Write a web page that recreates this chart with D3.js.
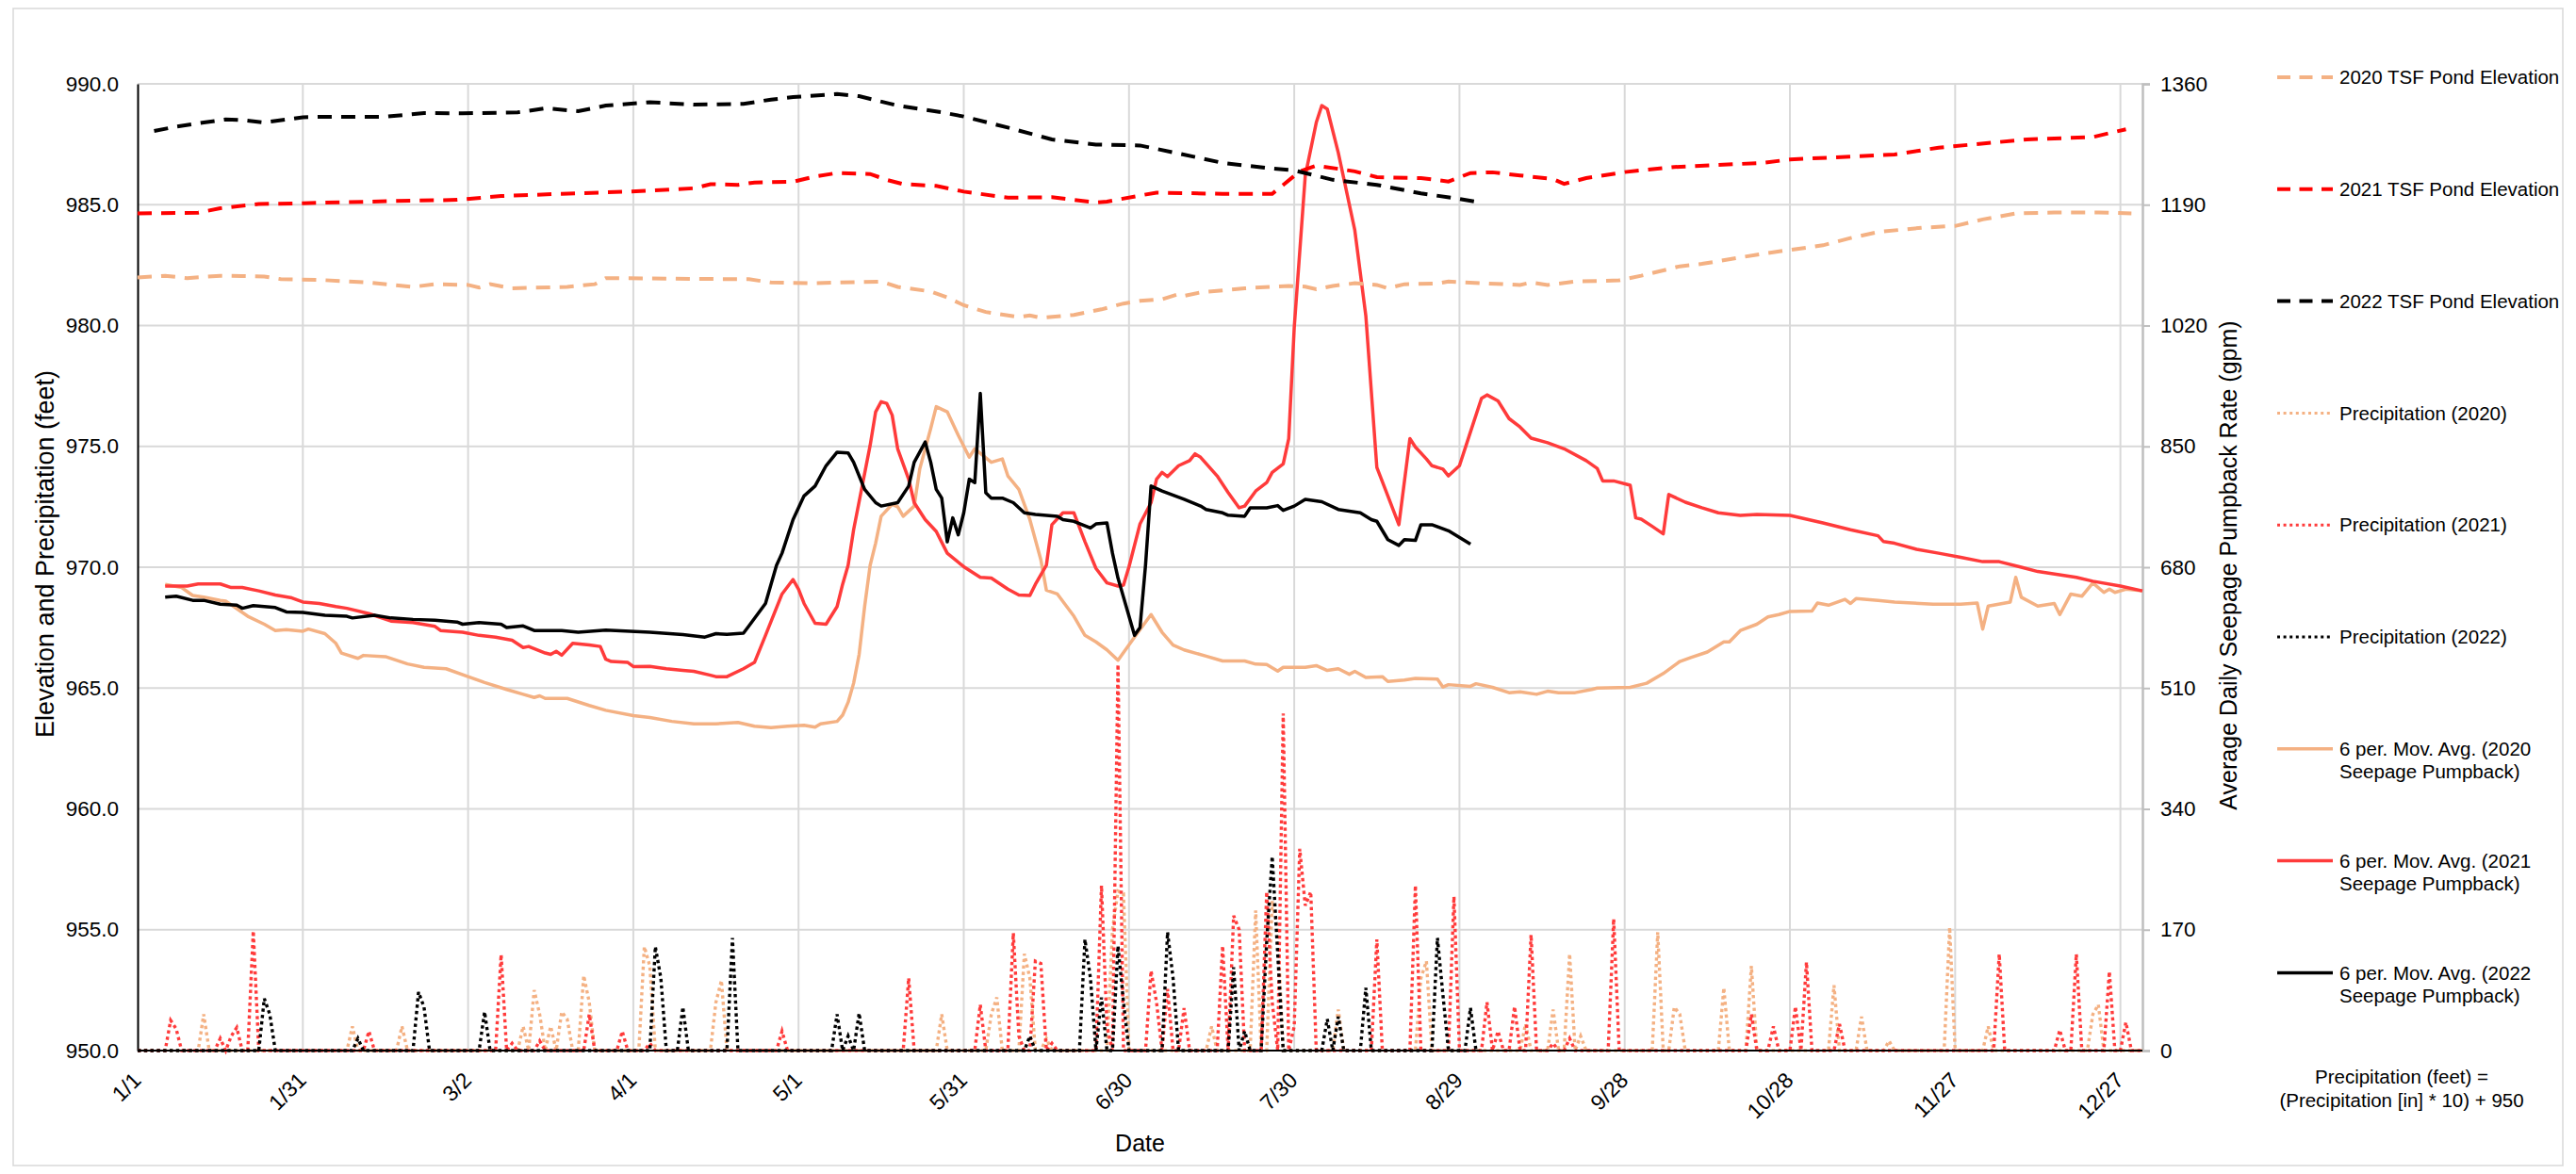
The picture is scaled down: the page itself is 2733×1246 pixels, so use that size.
<!DOCTYPE html>
<html><head><meta charset="utf-8">
<script src="https://cdn.jsdelivr.net/npm/d3@7/dist/d3.min.js"></script>
<style>
body{margin:0;background:#fff}
text{font-family:"Liberation Sans",Arial,sans-serif;fill:#000}
</style>
</head><body>
<svg id="c" width="2733" height="1246"></svg>
<script>
// ---------- DATA (day of year index 0 = 1/1) ----------
const xTickDays = [0,30,60,90,120,150,180,210,240,270,300,330,360];
const xTickLabels = ["1/1","1/31","3/2","4/1","5/1","5/31","6/30","7/30","8/29","9/28","10/28","11/27","12/27"];
const leftTicks = [950,955,960,965,970,975,980,985,990];
const rightTicks = [0,170,340,510,680,850,1020,1190,1360];

// TSF Pond Elevation (feet)
const tsf2020Days = [0,5,9,15,23,26,33,42,50,54,60,62,64,68,78,83,85,93,101,111,115,122,135,138,144,147,150,154,160,162,164,170,175,179,182,186,189,190,193,201,209,212,214,217,221,225,227,230,236,238,248,251,253,256,261,269,273,280,284,295,306,311,316,324,330,335,341,348,356,362];
const tsf2020Vals = [981.99,982.06,981.96,982.06,982.03,981.92,981.89,981.78,981.60,981.71,981.68,981.57,981.71,981.54,981.60,981.71,981.96,981.95,981.93,981.92,981.78,981.75,981.82,981.60,981.41,981.16,980.84,980.56,980.35,980.42,980.32,980.44,980.67,980.91,981.02,981.09,981.30,981.23,981.37,981.54,981.64,981.61,981.50,981.64,981.75,981.68,981.54,981.71,981.74,981.82,981.71,981.68,981.78,981.68,981.82,981.87,982.06,982.45,982.55,982.97,983.32,983.62,983.87,984.05,984.12,984.39,984.64,984.68,984.68,984.64];

const tsf2021Days = [0,11,15,22,30,46,58,66,77,89,101,104,109,112,119,123,127,133,136,139,145,150,158,166,174,176,182,185,197,206,208,211,214,221,225,233,238,242,246,251,257,259,263,270,279,295,300,319,327,343,355,361];
const tsf2021Vals = [984.64,984.67,984.85,985.03,985.06,985.15,985.20,985.36,985.45,985.54,985.68,985.85,985.82,985.92,985.95,986.17,986.31,986.27,986.03,985.85,985.78,985.54,985.29,985.31,985.09,985.13,985.38,985.50,985.45,985.45,985.82,986.38,986.62,986.38,986.14,986.10,985.96,986.31,986.34,986.21,986.06,985.86,986.10,986.35,986.56,986.73,986.87,987.08,987.36,987.70,987.80,988.12];

const tsf2022Days = [3,7,12,16,19,23,30,34,45,52,59,69,74,80,85,93,101,110,115,119,127,131,138,146,150,158,166,174,182,189,197,205,210,217,225,233,240,244];
const tsf2022Vals = [988.05,988.23,988.40,988.53,988.50,988.40,988.62,988.64,988.64,988.79,988.78,988.82,988.99,988.87,989.10,989.24,989.14,989.17,989.35,989.45,989.58,989.49,989.10,988.82,988.65,988.19,987.70,987.49,987.45,987.12,986.73,986.52,986.42,986.03,985.82,985.47,985.24,985.08];

// Precipitation (inches) on rain days; all other days 0
const precip2020Days = [12,39,48,70,72,73,75,77,78,81,82,92,93,105,106,146,155,156,161,162,165,177,178,179,195,203,206,207,218,233,234,252,257,260,262,276,279,280,288,293,308,313,318,329,336,355,356];
const precip2020In   = [0.15,0.10,0.10,0.10,0.25,0.15,0.10,0.16,0.13,0.31,0.20,0.43,0.35,0.20,0.29,0.15,0.15,0.22,0.40,0.30,0.05,0.50,0.66,0.65,0.10,0.58,0.62,0.50,0.17,0.30,0.37,0.11,0.17,0.40,0.06,0.49,0.18,0.15,0.26,0.35,0.27,0.14,0.04,0.51,0.10,0.15,0.19];
const precip2020End = 364;

const precip2021Days = [6,7,15,17,18,21,42,66,68,73,82,88,93,117,140,153,159,160,163,164,166,175,176,178,184,185,187,190,197,199,200,205,206,208,210,211,212,213,225,232,239,245,247,250,253,257,260,268,293,297,301,303,309,338,349,352,358,361];
const precip2021In   = [0.125,0.09,0.05,0.06,0.095,0.495,0.08,0.397,0.03,0.04,0.15,0.08,0.03,0.08,0.30,0.19,0.486,0.06,0.37,0.36,0.03,0.683,0.10,1.598,0.33,0.20,0.255,0.176,0.433,0.558,0.50,0.657,0.20,1.395,0.10,0.835,0.60,0.657,0.46,0.683,0.637,0.20,0.08,0.182,0.479,0.03,0.05,0.545,0.15,0.10,0.182,0.366,0.11,0.399,0.085,0.399,0.327,0.117];
const precip2021End = 364;

const precip2022Days = [23,24,40,51,52,63,94,95,99,108,127,129,131,162,172,173,175,178,179,187,188,199,201,205,206,207,216,218,223,236,237,242];
const precip2022In   = [0.215,0.15,0.05,0.242,0.18,0.16,0.43,0.30,0.18,0.466,0.15,0.06,0.155,0.06,0.46,0.30,0.22,0.433,0.20,0.49,0.30,0.345,0.08,0.45,0.803,0.40,0.13,0.14,0.26,0.466,0.23,0.177];
const precip2022End = 243;

// 6 per. moving average seepage pumpback (gpm)
const seep2020Days = [5,8,10,12,15,16,20,23,25,27,30,31,34,36,37,40,41,45,49,52,56,60,63,67,70,72,73,74,78,82,85,90,93,97,101,105,109,112,115,118,121,123,124,127,128,129,130,131,132,133,134,135,137,138,139,141,142,144,145,147,149,151,152,155,157,158,160,162,164,165,167,170,172,174,176,178,181,184,186,188,190,194,197,201,203,205,207,208,212,214,216,218,220,221,223,226,227,230,232,236,237,238,242,243,246,249,251,254,256,258,261,264,265,271,274,277,280,282,285,288,289,291,294,296,298,300,304,305,307,310,311,312,316,319,326,331,334,335,336,340,341,342,345,348,349,351,353,355,357,358,359,361,364];
const seep2020Gpm = [655.9,651.4,640.2,637.8,633.4,632.4,611.0,599.8,590.9,592.3,589.9,593.0,586.5,572.9,559.3,551.8,555.9,554.2,544.0,539.2,537.2,526.0,517.8,508.0,501.2,496.7,499.1,495.4,495.4,485.5,478.7,471.2,468.5,463.1,459.7,459.7,461.7,456.3,454.2,456.3,457.6,454.9,459.7,463.1,471.9,489.9,516.8,557.3,624.6,682.7,714.0,751.7,768.4,765.0,751.7,766.0,818.0,875.2,905.8,898.6,865.6,834.7,846.6,827.6,832.3,808.5,789.5,747.0,690.2,647.7,642.3,611.0,584.1,574.9,563.7,549.1,581.7,613.4,588.5,570.5,563.7,554.9,548.1,548.1,543.7,543.0,533.8,539.2,539.2,541.6,534.8,537.2,529.4,533.5,525.0,526.0,519.2,521.2,523.6,522.6,511.4,514.8,512.4,516.1,511.0,503.5,504.6,501.2,505.6,503.5,503.5,508.0,510.0,511.0,516.8,530.4,547.4,552.8,560.7,574.9,574.9,590.9,599.8,610.0,613.4,617.8,618.5,629.7,626.6,634.8,629.0,635.8,633.4,631.0,628.0,628.0,629.7,592.9,625.3,631.0,665.7,637.8,625.3,629.0,613.4,642.3,639.2,658.0,644.6,649.1,644.6,649.1,646.7];

const seep2021Days = [5,9,11,15,17,19,22,25,28,30,33,36,38,42,46,50,54,55,59,62,65,68,70,71,74,75,76,77,79,82,84,85,86,89,90,93,96,99,101,104,105,107,110,112,114,117,119,120,121,123,125,127,128,129,130,133,134,135,136,137,138,140,141,143,145,147,150,153,155,158,160,162,163,165,166,168,170,172,174,176,178,179,180,182,184,185,186,187,189,191,192,193,196,198,200,201,203,205,206,208,209,210,212,214,215,216,218,221,223,225,227,229,231,232,234,235,237,238,240,242,244,245,247,249,251,253,256,259,263,265,266,268,271,272,273,275,277,278,281,284,287,291,294,300,303,306,311,316,317,319,323,327,331,335,338,342,345,352,355,360,364];
const seep2021Gpm = [653.5,653.5,656.5,656.5,651.4,651.4,646.7,640.9,636.8,631.0,629.0,624.6,622.2,614.7,604.2,602.1,596.7,590.9,588.5,584.1,581.7,577.3,567.1,568.5,559.3,557.3,561.7,556.2,572.9,570.5,568.5,550.5,547.4,546.0,540.3,540.6,537.2,534.8,533.5,528.0,526.0,526.0,537.2,546.0,584.1,642.3,662.7,649.1,629.0,601.1,599.8,624.6,655.9,682.7,732.7,851.4,898.6,912.9,910.5,893.9,846.6,803.8,770.8,747.0,730.3,699.7,680.7,665.7,664.7,649.1,640.9,640.2,655.9,682.7,739.8,756.5,756.5,716.0,678.3,657.9,653.5,654.8,680.7,740.9,770.8,803.8,813.3,807.5,822.8,829.9,839.5,834.7,808.5,785.1,763.6,766.0,787.1,799.0,813.3,825.2,860.9,1017.3,1230.5,1305.6,1329.4,1324.6,1263.1,1154.0,1033.6,820.4,780.3,739.8,860.9,849.0,832.3,822.8,818.0,808.5,822.8,870.4,917.7,922.4,913.9,889.1,877.2,861.6,855.1,846.6,829.9,819.1,801.4,801.4,795.3,749.4,747.7,737.5,726.9,782.3,771.5,763.6,756.5,752.8,754.1,752.8,747.7,742.2,732.7,724.2,716.0,713.7,705.2,699.7,693.9,687.8,687.8,680.0,673.9,665.7,660.3,653.5,646.7];

const seep2022Days = [5,7,10,12,15,18,19,21,25,27,30,34,38,39,43,46,50,54,58,59,62,66,67,70,72,77,80,85,93,99,103,105,107,110,111,114,116,117,119,121,123,125,127,129,130,132,134,135,138,140,141,143,144,145,146,147,148,149,150,151,152,153,154,155,157,159,161,163,167,168,170,173,174,176,177,178,179,181,182,183,184,186,190,193,194,197,198,201,202,205,207,208,210,212,215,218,222,224,225,227,229,230,232,233,235,238,242];
const seep2022Gpm = [637.8,639.2,633.4,633.4,628.0,626.6,622.2,625.9,623.2,617.1,616.4,612.3,611.0,608.6,612.3,608.6,606.6,605.5,602.8,599.8,602.1,599.8,595.3,597.4,590.9,590.9,588.5,591.6,588.5,585.1,581.7,586.5,585.5,587.2,597.4,629.0,682.7,699.7,747.0,780.3,794.2,822.8,841.8,840.8,827.6,789.5,770.8,766.0,770.8,794.2,827.6,856.1,827.6,789.5,777.2,715.7,749.4,725.6,756.5,803.8,799.0,924.5,784.7,777.2,777.2,770.8,756.5,754.1,751.7,747.0,744.6,735.1,740.9,742.2,699.7,664.7,637.8,584.1,595.3,682.7,794.2,787.1,775.5,766.0,761.3,756.5,753.1,751.7,763.6,763.6,766.7,759.9,766.0,775.5,772.1,761.3,756.5,747.0,744.6,718.8,710.6,718.8,717.7,739.8,739.8,731.3,712.6];

// ---------- COLOURS ----------
const C2020 = "#F4B183", C2021 = "#FF0000", C2021L = "#FF3B3B", C2022 = "#000000";

// ---------- SCALES ----------
const svg = d3.select("#c");
const X0 = 146, X1 = 2273, Y0 = 1115, Y1 = 89;
const x = d3.scaleLinear().domain([0,364]).range([X0,X1]);
const yL = d3.scaleLinear().domain([950,990]).range([Y0,Y1]);
const yR = d3.scaleLinear().domain([0,1360]).range([Y0,Y1]);

svg.append("rect").attr("x",0).attr("y",0).attr("width",2733).attr("height",1246).attr("fill","#fff");
svg.append("rect").attr("x",14).attr("y",9).attr("width",2705).attr("height",1228)
  .attr("fill","none").attr("stroke","#d9d9d9").attr("stroke-width",1.5);

// gridlines
const grid = svg.append("g");
grid.selectAll("line.h").data(leftTicks.slice(1)).join("line")
  .attr("x1",X0).attr("x2",X1).attr("y1",d=>yL(d)).attr("y2",d=>yL(d))
  .attr("stroke","#d9d9d9").attr("stroke-width",2);
grid.selectAll("line.v").data(xTickDays.slice(1)).join("line")
  .attr("x1",d=>x(d)).attr("x2",d=>x(d)).attr("y1",Y1).attr("y2",Y0)
  .attr("stroke","#d9d9d9").attr("stroke-width",2);

// right axis
const rAxis = d3.axisRight(yR).tickValues(rightTicks).tickSize(8).tickFormat(d3.format("d"));
const rg = svg.append("g").attr("transform",`translate(${X1},0)`).call(rAxis);
rg.select(".domain").attr("stroke","#bfbfbf").attr("stroke-width",2.5);
rg.selectAll(".tick line").attr("stroke","#bfbfbf").attr("stroke-width",2);
rg.selectAll(".tick text").attr("x",19).attr("font-size",22.5).attr("font-family","Liberation Sans, Arial, sans-serif").attr("fill","#000");

// left axis
const lAxis = d3.axisLeft(yL).tickValues(leftTicks).tickSize(0).tickFormat(d3.format(".1f"));
const lg = svg.append("g").attr("transform",`translate(${X0},0)`).call(lAxis);
lg.select(".domain").attr("stroke","#000").attr("stroke-width",2);
lg.selectAll(".tick text").attr("x",-20).attr("font-size",22.5).attr("font-family","Liberation Sans, Arial, sans-serif").attr("fill","#000");

// x labels
const xg = svg.append("g");
xg.selectAll("text").data(xTickDays).join("text")
  .attr("transform",d=>`translate(${x(d)+5},${Y0+33}) rotate(-45)`)
  .attr("text-anchor","end").attr("font-size",23)
  .text((d,i)=>xTickLabels[i]);

// ---------- SERIES ----------
const lineL = d3.line().x(d=>x(d[0])).y(d=>yL(d[1]));
const lineR = d3.line().x(d=>x(d[0])).y(d=>yR(d[1]));
const zip = (a,b)=>a.map((d,i)=>[d,b[i]]);
function dailyPrecip(days, inches, end){
  const m = new Map(days.map((d,i)=>[d,inches[i]]));
  const out = [];
  for(let d=0; d<=end; d++) out.push([d, (m.get(d)||0)*10 + 950]);
  return out;
}
const plot = svg.append("g");
const dot = "3.4 3.4", dash = "15 10";
[[precip2020Days,precip2020In,precip2020End,C2020],
 [precip2021Days,precip2021In,precip2021End,C2021L],
 [precip2022Days,precip2022In,precip2022End,C2022]].forEach(s=>{
  plot.append("path").attr("d",lineL(dailyPrecip(s[0],s[1],s[2])))
    .attr("fill","none").attr("stroke",s[3]).attr("stroke-width",3.4).attr("stroke-dasharray",dot);
});
// bottom axis line
svg.append("line").attr("x1",X0).attr("x2",X1).attr("y1",Y0).attr("y2",Y0).attr("stroke","#000").attr("stroke-width",2);

[[seep2020Days,seep2020Gpm,C2020],[seep2021Days,seep2021Gpm,C2021L],[seep2022Days,seep2022Gpm,C2022]].forEach(s=>{
  plot.append("path").attr("d",lineR(zip(s[0],s[1])))
    .attr("fill","none").attr("stroke",s[2]).attr("stroke-width",3.5).attr("stroke-linejoin","round");
});
[[tsf2020Days,tsf2020Vals,C2020],[tsf2021Days,tsf2021Vals,C2021],[tsf2022Days,tsf2022Vals,C2022]].forEach(s=>{
  plot.append("path").attr("d",lineL(zip(s[0],s[1])))
    .attr("fill","none").attr("stroke",s[2]).attr("stroke-width",4).attr("stroke-dasharray",dash);
});

// ---------- AXIS TITLES ----------
svg.append("text").attr("transform","translate(57,588) rotate(-90)").attr("text-anchor","middle")
  .attr("font-size",27).text("Elevation and Precipitation (feet)");
svg.append("text").attr("transform","translate(2373,600) rotate(-90)").attr("text-anchor","middle")
  .attr("font-size",25).text("Average Daily Seepage Pumpback Rate (gpm)");
svg.append("text").attr("x",(X0+X1)/2).attr("y",1222).attr("text-anchor","middle")
  .attr("font-size",25).text("Date");

// ---------- LEGEND ----------
const legendItems = [
  {lines:["2020 TSF Pond Elevation"], color:C2020, style:"dash"},
  {lines:["2021 TSF Pond Elevation"], color:C2021, style:"dash"},
  {lines:["2022 TSF Pond Elevation"], color:C2022, style:"dash"},
  {lines:["Precipitation (2020)"], color:C2020, style:"dot"},
  {lines:["Precipitation (2021)"], color:C2021L, style:"dot"},
  {lines:["Precipitation (2022)"], color:C2022, style:"dot"},
  {lines:["6 per. Mov. Avg. (2020","Seepage Pumpback)"], color:C2020, style:"solid"},
  {lines:["6 per. Mov. Avg. (2021","Seepage Pumpback)"], color:C2021L, style:"solid"},
  {lines:["6 per. Mov. Avg. (2022","Seepage Pumpback)"], color:C2022, style:"solid"}
];
const lgd = svg.append("g");
legendItems.forEach((it,i)=>{
  const yy = 82 + i*118.8;
  const ln = lgd.append("line").attr("x1",2416).attr("x2",2475).attr("y1",yy).attr("y2",yy)
    .attr("stroke",it.color);
  if(it.style==="dash") ln.attr("stroke-width",4).attr("stroke-dasharray","14 9.5");
  else if(it.style==="dot") ln.attr("stroke-width",3).attr("stroke-dasharray","3 3.6");
  else ln.attr("stroke-width",3.5);
  it.lines.forEach((t,j)=>{
    lgd.append("text").attr("x",2482).attr("y",yy+j*24).attr("dy","0.35em")
      .attr("font-size",20.5).text(t);
  });
});
lgd.append("text").attr("x",2548).attr("y",1143).attr("dy","0.35em").attr("text-anchor","middle")
  .attr("font-size",20.5).text("Precipitation (feet) =");
lgd.append("text").attr("x",2548).attr("y",1168).attr("dy","0.35em").attr("text-anchor","middle")
  .attr("font-size",20.5).text("(Precipitation [in] * 10) + 950");
</script>
</body></html>
